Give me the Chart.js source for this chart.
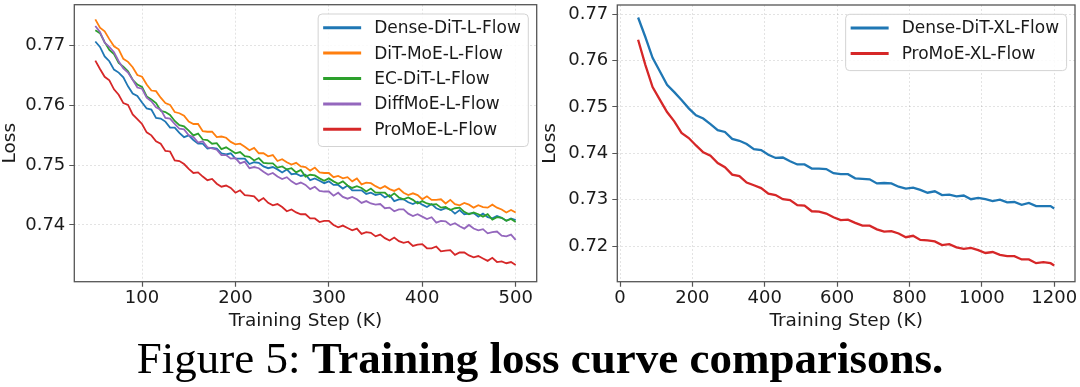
<!DOCTYPE html>
<html>
<head>
<meta charset="utf-8">
<script src="https://cdn.jsdelivr.net/npm/chart.js@4.4.0/dist/chart.umd.min.js"></script>
<style>
  html, body { margin: 0; padding: 0; background: #fff; }
  body { width: 1080px; height: 387px; position: relative; overflow: hidden; }
  .panel { position: absolute; top: 0; width: 540px; height: 340px; }
  #panelL { left: 0; }
  #panelXL { left: 540px; }
  .caption {
    position: absolute; left: 0; top: 335.6px; width: 1080px;
    text-align: center; white-space: nowrap; color: #000;
    font-family: "Liberation Serif", "Times New Roman", serif;
    font-size: 45px; line-height: 45px;
  }
</style>
</head>
<body>
<div class="panel" id="panelL"><canvas id="lossChartL" width="540" height="340" style="width:540px;height:340px"></canvas></div>
<div class="panel" id="panelXL"><canvas id="lossChartXL" width="540" height="340" style="width:540px;height:340px"></canvas></div>
<div class="caption">Figure 5: <b>Training loss curve comparisons.</b></div>

<script>
// ---- L models (left) ----
const stepsL = [50,55,60,65,70,75,80,85,90,95,100,105,110,115,120,125,130,135,140,145,150,155,160,165,170,175,180,185,190,195,200,205,210,215,220,225,230,235,240,245,250,255,260,265,270,275,280,285,290,295,300,305,310,315,320,325,330,335,340,345,350,355,360,365,370,375,380,385,390,395,400,405,410,415,420,425,430,435,440,445,450,455,460,465,470,475,480,485,490,495,500];
const denseL = [
    .7707,.7698,.7682,.7674,.7660,.7655,.7647,.7632,.7620,.7616,
    .7605,.7595,.7593,.7579,.7578,.7573,.7563,.7563,.7554,.7547,
    .7550,.7542,.7536,.7536,.7528,.7529,.7528,.7520,.7518,.7520,
    .7511,.7511,.7511,.7502,.7505,.7504,.7498,.7495,.7497,.7493,
    .7488,.7493,.7485,.7486,.7482,.7484,.7475,.7478,.7474,.7470,
    .7473,.7467,.7467,.7461,.7466,.7458,.7458,.7458,.7452,.7454,
    .7450,.7452,.7446,.7450,.7440,.7443,.7443,.7438,.7435,.7439,
    .7434,.7430,.7435,.7428,.7425,.7428,.7426,.7419,.7425,.7418,
    .7419,.7420,.7414,.7419,.7413,.7411,.7415,.7412,.7407,.7411,
    .7408];
const ditMoeL = [
    .7744,.7730,.7724,.7711,.7699,.7694,.7678,.7673,.7664,.7651,
    .7648,.7635,.7625,.7624,.7613,.7604,.7601,.7589,.7587,.7583,
    .7573,.7569,.7569,.7557,.7556,.7556,.7547,.7548,.7546,.7539,
    .7535,.7536,.7531,.7525,.7529,.7520,.7520,.7515,.7517,.7507,
    .7510,.7505,.7501,.7504,.7498,.7497,.7491,.7496,.7488,.7487,
    .7487,.7480,.7482,.7478,.7480,.7473,.7478,.7468,.7471,.7470,
    .7465,.7461,.7465,.7460,.7457,.7461,.7454,.7450,.7453,.7450,
    .7443,.7448,.7442,.7442,.7443,.7436,.7442,.7435,.7433,.7437,
    .7434,.7429,.7433,.7430,.7429,.7434,.7429,.7426,.7421,.7425,
    .7421];
const ecDitL = [
    .7726,.7721,.7706,.7693,.7686,.7671,.7665,.7657,.7643,.7635,
    .7631,.7615,.7610,.7604,.7591,.7589,.7584,.7574,.7567,.7565,
    .7558,.7550,.7553,.7543,.7542,.7536,.7537,.7527,.7530,.7525,
    .7520,.7522,.7515,.7514,.7508,.7512,.7504,.7503,.7503,.7496,
    .7498,.7493,.7495,.7488,.7492,.7481,.7484,.7483,.7478,.7474,
    .7478,.7473,.7469,.7473,.7466,.7462,.7465,.7462,.7456,.7461,
    .7454,.7454,.7454,.7447,.7453,.7446,.7443,.7446,.7442,.7436,
    .7440,.7436,.7434,.7435,.7429,.7430,.7425,.7428,.7429,.7422,
    .7418,.7421,.7418,.7414,.7418,.7409,.7413,.7412,.7407,.7410,
    .7405];
const diffMoeL = [
    .7733,.7723,.7705,.7698,.7689,.7674,.7662,.7655,.7643,.7630,
    .7628,.7613,.7607,.7597,.7593,.7579,.7578,.7569,.7561,.7560,
    .7550,.7547,.7538,.7540,.7530,.7528,.7526,.7517,.7517,.7511,
    .7512,.7503,.7506,.7495,.7497,.7495,.7489,.7484,.7487,.7481,
    .7477,.7480,.7473,.7468,.7471,.7467,.7460,.7464,.7457,.7456,
    .7456,.7449,.7454,.7447,.7444,.7447,.7443,.7437,.7440,.7436,
    .7434,.7435,.7428,.7429,.7423,.7426,.7426,.7419,.7415,.7418,
    .7414,.7410,.7413,.7404,.7407,.7406,.7400,.7403,.7398,.7394,
    .7400,.7394,.7391,.7393,.7386,.7388,.7389,.7382,.7381,.7384,
    .7375];
const proMoeL = [
    .7675,.7661,.7648,.7642,.7627,.7618,.7604,.7601,.7585,.7577,
    .7569,.7555,.7550,.7540,.7536,.7524,.7523,.7508,.7507,.7502,
    .7494,.7487,.7488,.7481,.7475,.7477,.7469,.7464,.7466,.7462,
    .7454,.7458,.7450,.7449,.7448,.7440,.7445,.7437,.7433,.7435,
    .7430,.7423,.7426,.7421,.7418,.7418,.7411,.7411,.7405,.7407,
    .7407,.7400,.7396,.7399,.7395,.7391,.7394,.7385,.7388,.7387,
    .7381,.7384,.7378,.7374,.7379,.7373,.7370,.7372,.7365,.7367,
    .7368,.7361,.7361,.7364,.7356,.7357,.7358,.7350,.7354,.7354,
    .7349,.7346,.7348,.7344,.7340,.7345,.7338,.7339,.7336,.7338,
    .7333];
const labelsL = ['Dense-DiT-L-Flow', 'DiT-MoE-L-Flow', 'EC-DiT-L-Flow', 'DiffMoE-L-Flow', 'ProMoE-L-Flow'];
const xTicksL = [100, 200, 300, 400, 500];
const yTicksL = [0.74, 0.75, 0.76, 0.77];

// ---- XL models (right) ----
const stepsXL = [50,70,90,110,130,150,170,190,210,230,250,270,290,310,330,350,370,390,410,430,450,470,490,510,530,550,570,590,610,630,650,670,690,710,730,750,770,790,810,830,850,870,890,910,930,950,970,990,1010,1030,1050,1070,1090,1110,1130,1150,1170,1190,1200];
const denseXL = [
    .7693,.7651,.7606,.7577,.7548,.7532,.7515,.7497,.7482,.7475,
    .7463,.7450,.7446,.7431,.7427,.7420,.7409,.7407,.7397,.7390,
    .7391,.7383,.7376,.7376,.7367,.7367,.7366,.7357,.7355,.7355,
    .7346,.7345,.7344,.7335,.7336,.7335,.7328,.7324,.7326,.7321,
    .7315,.7318,.7310,.7311,.7307,.7309,.7301,.7304,.7301,.7297,
    .7300,.7294,.7295,.7289,.7293,.7286,.7286,.7286,.7281];
const proMoeXL = [
    .7645,.7591,.7543,.7516,.7489,.7469,.7444,.7433,.7417,.7402,
    .7395,.7379,.7370,.7354,.7351,.7337,.7331,.7325,.7313,.7310,
    .7301,.7299,.7288,.7287,.7275,.7274,.7270,.7262,.7256,.7257,
    .7250,.7244,.7244,.7236,.7231,.7232,.7227,.7219,.7222,.7213,
    .7212,.7210,.7202,.7204,.7197,.7194,.7196,.7191,.7185,.7187,
    .7181,.7178,.7178,.7171,.7171,.7163,.7165,.7163,.7158];
const labelsXL = ['Dense-DiT-XL-Flow', 'ProMoE-XL-Flow'];
const xTicksXL = [0, 200, 400, 600, 800, 1000, 1200];
const yTicksXL = [0.72, 0.73, 0.74, 0.75, 0.76, 0.77];

const FONT = "'DejaVu Sans', sans-serif";
const C_BLUE = '#1f77b4', C_ORANGE = '#ff7f0e', C_GREEN = '#2ca02c', C_PURPLE = '#9467bd', C_RED = '#d62728';

/**
 * box frame + legend inside plot (matplotlib look)
 */
const frameLegend = {
    id: 'frameLegend',
    afterDraw(chart) {
        const ctx = chart.ctx;
        const area = chart.chartArea;
        const sets = chart.data.datasets;
        ctx.save();
        ctx.strokeStyle = '#555';
        ctx.lineWidth = 1.3;
        ctx.strokeRect(area.left, area.top, area.right - area.left, area.bottom - area.top);

        ctx.font = '17px ' + FONT;
        let maxW = 0;
        sets.forEach(ds => { maxW = Math.max(maxW, ctx.measureText(ds.label).width); });
        const rowH = 25.4;
        const w = 56 + maxW + 7.5;
        const h = sets.length * rowH + 5.5;
        const x = area.right - 8.4 - w;
        const y = area.top + 9.3;
        ctx.beginPath();
        ctx.roundRect(x, y, w, h, 4);
        ctx.fillStyle = 'rgba(255,255,255,0.85)';
        ctx.fill();
        ctx.strokeStyle = '#d3d3d3';
        ctx.lineWidth = 1;
        ctx.stroke();
        sets.forEach((ds, i) => {
            const cy = y + 13.7 + i * rowH;
            ctx.beginPath();
            ctx.moveTo(x + 5, cy);
            ctx.lineTo(x + 43, cy);
            ctx.strokeStyle = ds.borderColor;
            ctx.lineWidth = 3;
            ctx.stroke();
            ctx.fillStyle = '#1a1a1a';
            ctx.textBaseline = 'middle';
            ctx.fillText(ds.label, x + 56, cy + 1);
        });
        ctx.restore();
    }
};

let makeDataset = (label, steps, values, color, order, width) => ({
    label: label,
    data: steps.map((s, i) => ({ x: s, y: values[i] })),
    borderColor: color,
    backgroundColor: color,
    borderWidth: width,
    pointRadius: 0,
    tension: 0,
    fill: false,
    order: order
});

let setLossChartConfig = (datasets, xr, yr, xTicks, yTicks, yAxisWidth, padRight, padTop) => {
    return {
        type: 'line',
        data: { datasets: datasets },
        options: {
            responsive: false,
            maintainAspectRatio: false,
            devicePixelRatio: 1,
            animation: false,
            events: [],
            layout: { padding: { left: 0, right: padRight, top: padTop, bottom: 0 } },
            plugins: { legend: { display: false }, tooltip: { enabled: false } },
            scales: {
                x: {
                    type: 'linear',
                    min: xr[0],
                    max: xr[1],
                    afterBuildTicks: (axis) => { axis.ticks = xTicks.map(v => ({ value: v })); },
                    afterFit: (axis) => { axis.height = 58.3; axis.paddingLeft = 0; axis.paddingRight = 0; },
                    ticks: {
                        color: '#1a1a1a',
                        padding: 1,
                        maxRotation: 0,
                        font: { family: FONT, size: 18 },
                        callback: (v) => String(v)
                    },
                    grid: {
                        color: 'rgba(0,0,0,0.14)',
                        lineWidth: 0.8,
                        drawTicks: true,
                        tickLength: 5,
                        tickColor: '#555',
                        tickWidth: 1.2,
                        tickBorderDash: [1, 0]
                    },
                    border: { display: false, dash: [2, 2] },
                    title: {
                        display: true,
                        text: 'Training Step (K)',
                        color: '#1a1a1a',
                        font: { family: FONT, size: 18.5, lineHeight: 1 },
                        padding: { top: 0, bottom: 10 }
                    }
                },
                y: {
                    type: 'linear',
                    min: yr[0],
                    max: yr[1],
                    afterBuildTicks: (axis) => { axis.ticks = yTicks.map(v => ({ value: v })); },
                    afterFit: (axis) => { axis.width = yAxisWidth; axis.paddingTop = 0; axis.paddingBottom = 0; },
                    ticks: {
                        color: '#1a1a1a',
                        padding: 4,
                        font: { family: FONT, size: 18 },
                        callback: (v) => Number(v).toFixed(2)
                    },
                    grid: {
                        color: 'rgba(0,0,0,0.14)',
                        lineWidth: 0.8,
                        drawTicks: true,
                        tickLength: 5,
                        tickColor: '#555',
                        tickWidth: 1.2,
                        tickBorderDash: [1, 0]
                    },
                    border: { display: false, dash: [2, 2] },
                    title: {
                        display: true,
                        text: 'Loss',
                        color: '#1a1a1a',
                        font: { family: FONT, size: 18.5, lineHeight: 1 },
                        padding: { top: 1, bottom: 0 }
                    }
                }
            }
        },
        plugins: [frameLegend]
    };
};

let lossChartL = new Chart(document.getElementById('lossChartL'), setLossChartConfig([
    makeDataset(labelsL[0], stepsL, denseL, C_BLUE, 4, 1.8),
    makeDataset(labelsL[1], stepsL, ditMoeL, C_ORANGE, 3, 1.8),
    makeDataset(labelsL[2], stepsL, ecDitL, C_GREEN, 2, 1.8),
    makeDataset(labelsL[3], stepsL, diffMoeL, C_PURPLE, 1, 1.8),
    makeDataset(labelsL[4], stepsL, proMoeL, C_RED, 0, 1.8)
], [27.5, 522.5], [0.73051, 0.77686], xTicksL, yTicksL, 74.3, 3.3, 4.7));

let lossChartXL = new Chart(document.getElementById('lossChartXL'), setLossChartConfig([
    makeDataset(labelsXL[0], stepsXL, denseXL, C_BLUE, 1, 2.3),
    makeDataset(labelsXL[1], stepsXL, proMoeXL, C_RED, 0, 2.3)
], [-7.5, 1257.5], [0.71230, 0.77200], xTicksXL, yTicksXL, 77.3, 5, 5));
</script>
</body>
</html>
